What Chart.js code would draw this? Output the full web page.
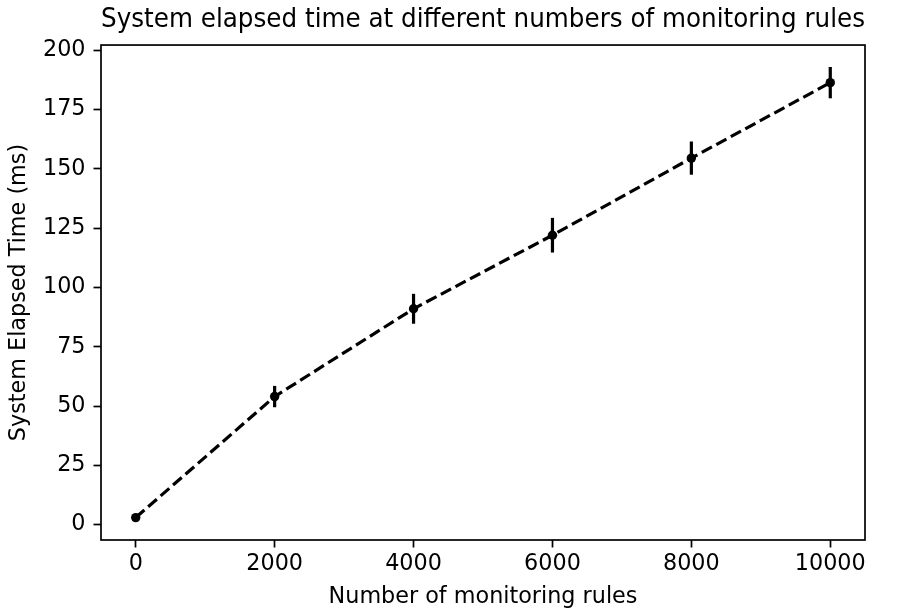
<!DOCTYPE html>
<html><head><meta charset="utf-8">
<script src="https://cdn.jsdelivr.net/npm/chart.js@4/dist/chart.umd.min.js"></script>
<style>html,body{margin:0;padding:0;background:#fff;}#c{display:block;}</style>
</head><body>
<canvas id="c" width="911" height="612"></canvas>
<script>
const rules = [0, 2000, 4000, 6000, 8000, 10000];
const elapsed = [3, 54, 91, 122, 154.5, 186.3];
const errors = [1, 4.5, 6.3, 7.3, 7, 6.6];
const xTicks = [0, 2000, 4000, 6000, 8000, 10000];
const yTicks = [0, 25, 50, 75, 100, 125, 150, 175, 200];

const FONT = 'DejaVu Sans';
const TICK_SIZE = 22.3;

const errorBars = {
  id: 'errorBars',
  afterDatasetsDraw(chart) {
    const ctx = chart.ctx, xs = chart.scales.x, ys = chart.scales.y;
    ctx.save();
    ctx.strokeStyle = '#000';
    ctx.lineWidth = 3.2;
    rules.forEach((r, i) => {
      const px = xs.getPixelForValue(r);
      ctx.beginPath();
      ctx.moveTo(px, ys.getPixelForValue(elapsed[i] - errors[i]));
      ctx.lineTo(px, ys.getPixelForValue(elapsed[i] + errors[i]));
      ctx.stroke();
    });
    ctx.restore();
  }
};
const frame = {
  id: 'frame',
  afterDraw(chart) {
    const a = chart.chartArea, ctx = chart.ctx;
    ctx.save();
    ctx.strokeStyle = '#000';
    ctx.lineWidth = 1.7;
    ctx.strokeRect(a.left, a.top, a.right - a.left, a.bottom - a.top);
    ctx.restore();
  }
};

new Chart(document.getElementById('c'), {
  type: 'scatter',
  data: {
    datasets: [{
      data: rules.map((r, i) => ({x: r, y: elapsed[i]})),
      showLine: true,
      borderColor: '#000',
      backgroundColor: '#000',
      borderWidth: 3.2,
      borderDash: [11.5, 5],
      pointRadius: 4.7,
      pointBackgroundColor: '#000',
      pointBorderWidth: 0
    }]
  },
  options: {
    responsive: false,
    animation: false,
    layout: {padding: {left: 0, right: 46, top: 0, bottom: 0}},
    plugins: {
      legend: {display: false},
      tooltip: {enabled: false},
      title: {
        display: true,
        fullSize: false,
        text: 'System elapsed time at different numbers of monitoring rules',
        color: '#000',
        font: {family: FONT, size: 27.2, weight: 'normal', lineHeight: 1.2},
        padding: {top: 4, bottom: 8.4}
      }
    },
    scales: {
      x: {
        type: 'linear',
        min: -500, max: 10500,
        afterBuildTicks(s) { s.ticks = xTicks.map(v => ({value: v})); },
        afterFit(s) { s.height = 72; },
        grid: {display: true, drawOnChartArea: false, drawTicks: true, tickLength: 7.5, color: '#000', tickWidth: 1.7},
        border: {display: false},
        ticks: {color: '#000', font: {family: FONT, size: TICK_SIZE}, padding: 3, maxRotation: 0,
                callback: v => String(v)},
        title: {display: true, text: 'Number of monitoring rules', color: '#000', font: {family: FONT, size: TICK_SIZE}, padding: {top: 0, bottom: 1.5}}
      },
      y: {
        min: -6.45, max: 202.15,
        afterBuildTicks(s) { s.ticks = yTicks.map(v => ({value: v})); },
        afterFit(s) { s.width = 101; },
        grid: {display: true, drawOnChartArea: false, drawTicks: true, tickLength: 7.5, color: '#000', tickWidth: 1.7},
        border: {display: false},
        ticks: {color: '#000', font: {family: FONT, size: TICK_SIZE}, padding: 8, callback: v => String(v)},
        title: {display: true, text: 'System Elapsed Time (ms)', color: '#000', font: {family: FONT, size: TICK_SIZE}, padding: {top: 6, bottom: 0}}
      }
    }
  },
  plugins: [errorBars, frame]
});
</script>
</body></html>
